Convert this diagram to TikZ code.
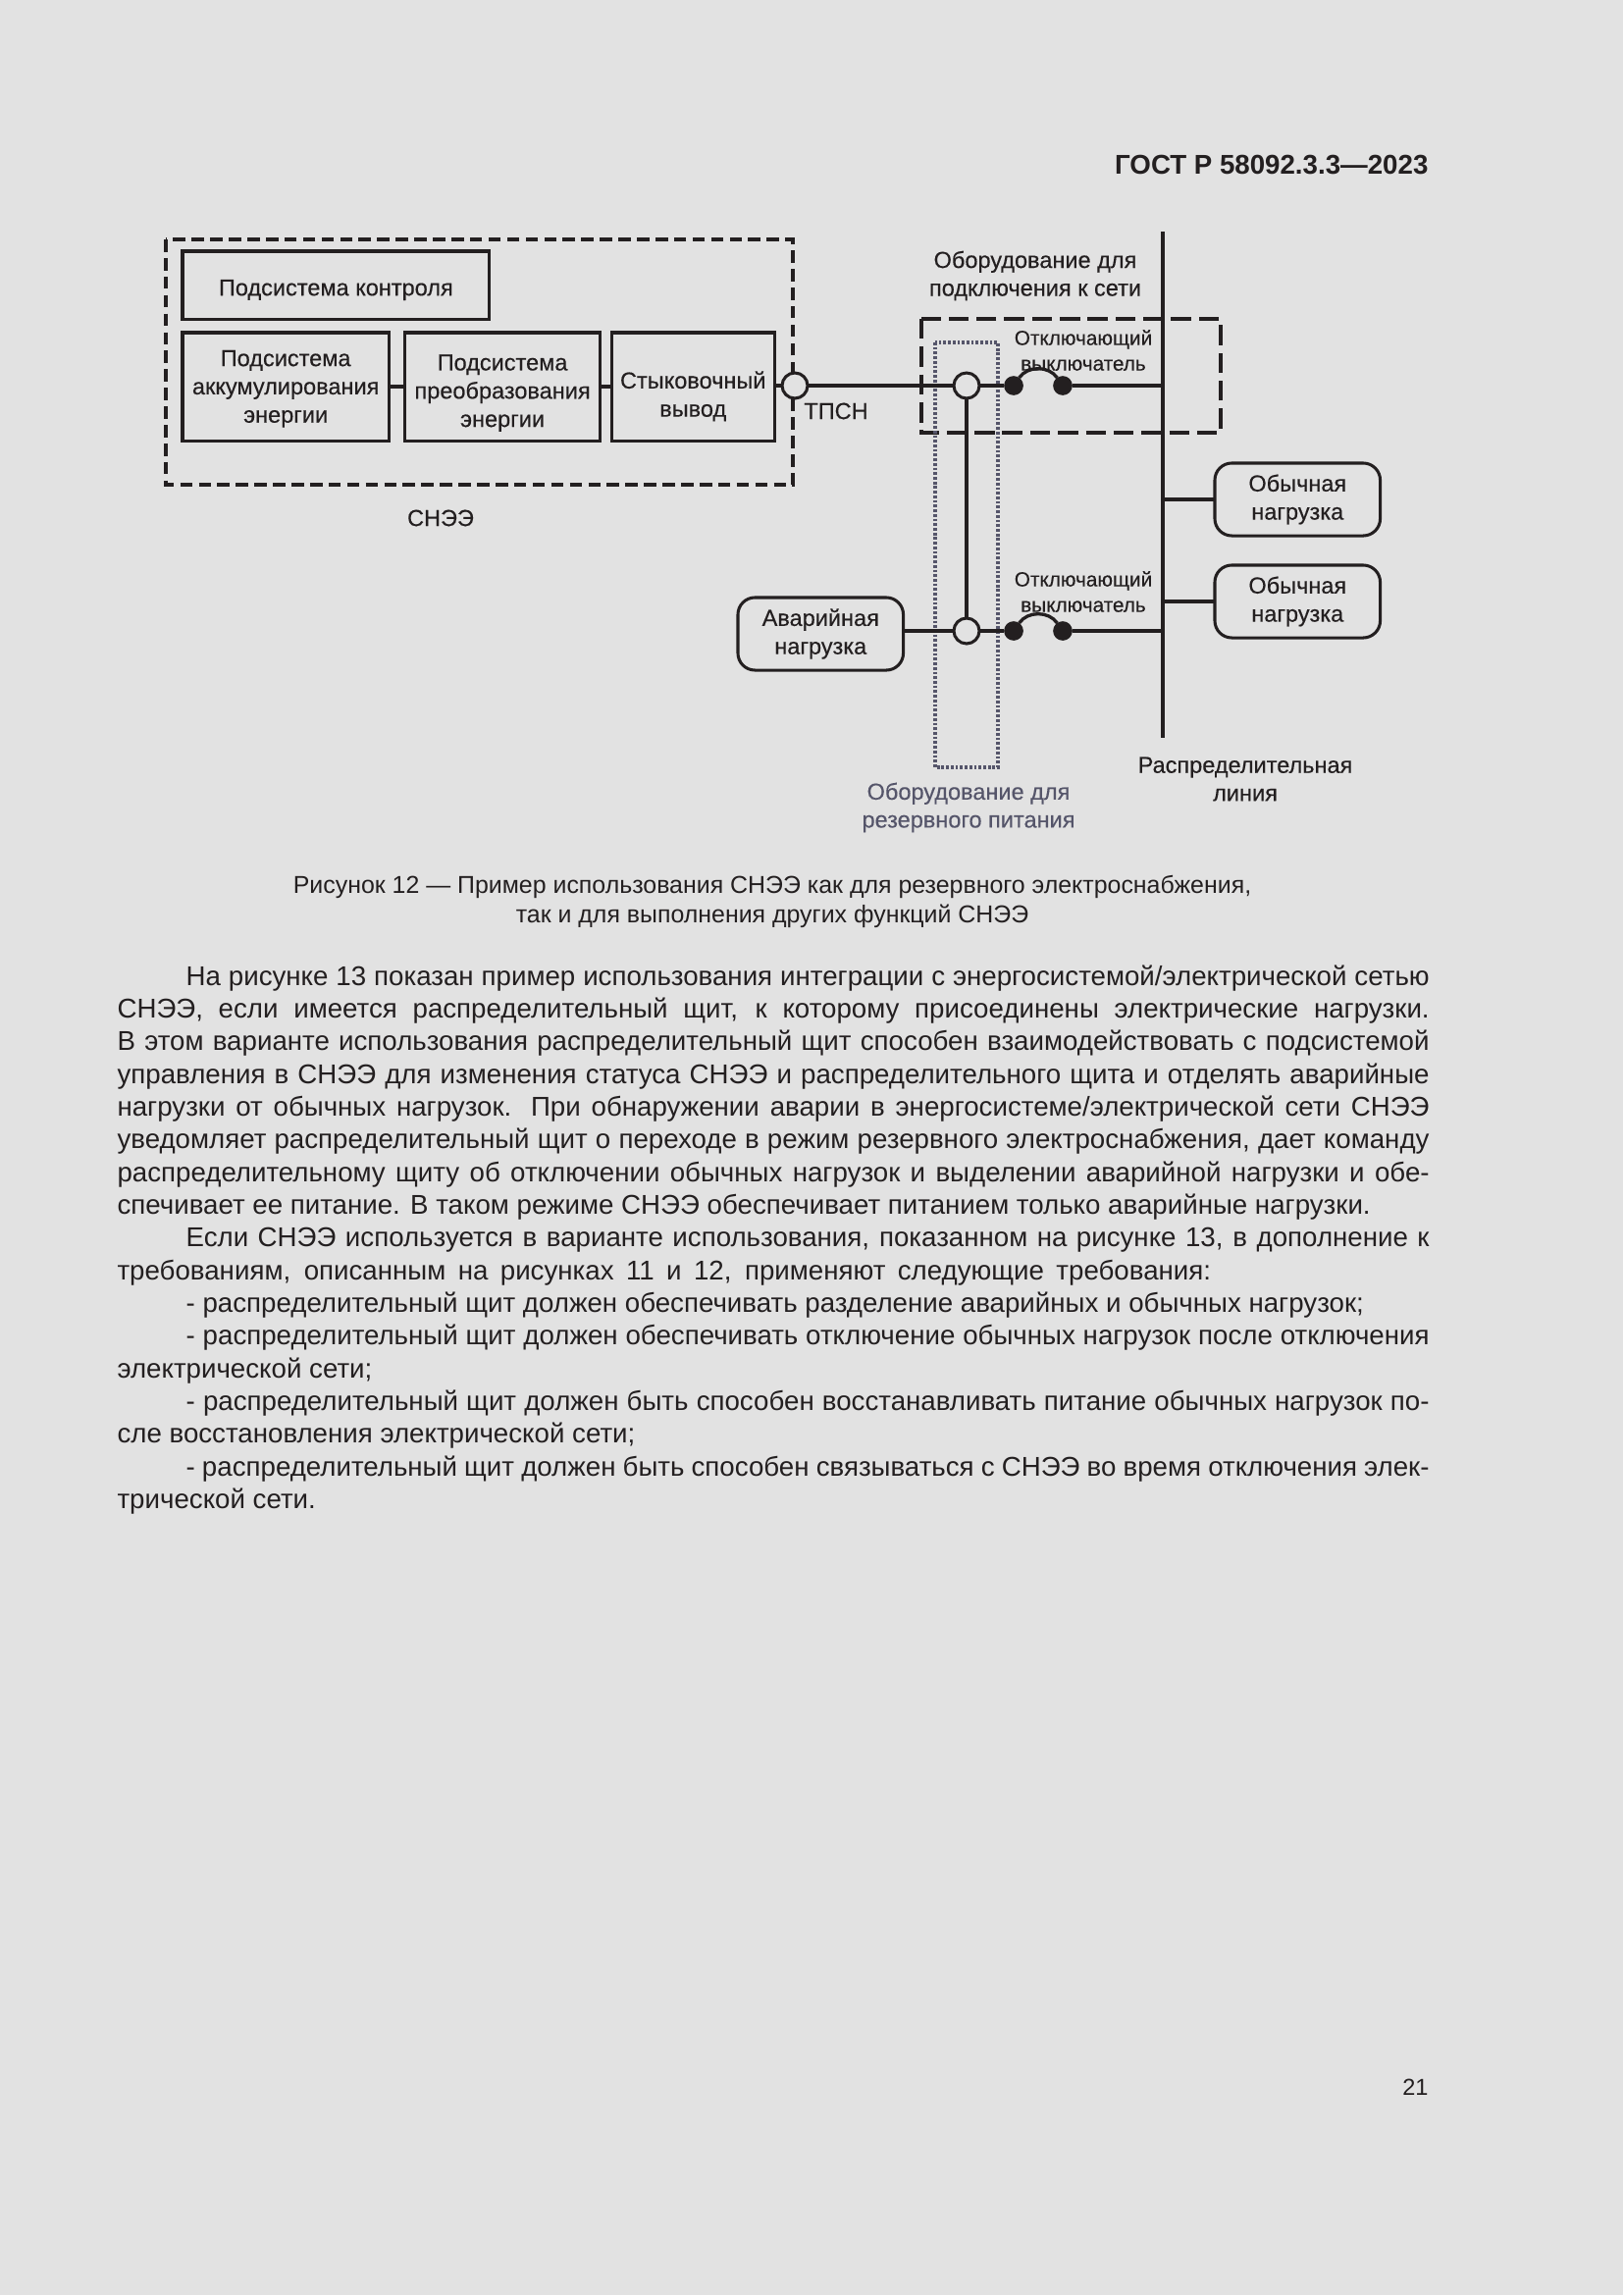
\documentclass[tikz,border=0pt]{standalone}
\usepackage{fontspec}
\setmainfont{Liberation Sans}
\newfontfamily\diagfont[FakeBold=0.35]{Liberation Sans}
\definecolor{paper}{HTML}{E2E2E2}
\definecolor{ink}{HTML}{231F20}
\definecolor{slate}{HTML}{55556A}
\usetikzlibrary{arrows.meta, positioning, calc}
\tikzset{
  box/.style={draw=ink, line width=1.1pt, outer sep=0pt, align=center, font=\diagfont\fontsize{8.5}{10.4}\selectfont, text=ink, inner sep=0pt, minimum height=14mm},
  loadbox/.style={box, rounded corners=2.2mm, minimum width=21.4mm, minimum height=9.4mm},
  wire/.style={draw=ink, line width=1.4pt},
  wirethin/.style={draw=ink, line width=1.2pt},
  tap/.style={circle, draw=ink, fill=paper, line width=1.1pt, minimum size=3.3mm, inner sep=0pt, outer sep=0pt},
  contact/.style={circle, fill=ink, minimum size=2.5mm, inner sep=0pt, outer sep=0pt},
  lbl/.style={font=\diagfont\fontsize{8.5}{10.3}\selectfont, text=ink, align=center, inner sep=0pt},
  smalllbl/.style={font=\diagfont\fontsize{7.5}{9.4}\selectfont, text=ink, align=center, inner sep=0pt},
  zone/.style={draw=ink, line width=1.1pt, dash pattern=on 1.6mm off 0.8mm},
  gridzone/.style={draw=ink, line width=1.1pt, dash pattern=on 2.6mm off 1mm},
  backupzone/.style={draw=slate, line width=1.3pt, dash pattern=on 0.35mm off 0.25mm},
  pagetext/.style={font=\fontsize{10}{12.04}\selectfont, text=ink, inner sep=0pt},
}
\newcommand{\nl}{\linebreak}
\newcommand{\topgap}[1]{\rule{0pt}{#1}}
\begin{document}
\begin{tikzpicture}[x=0.12697mm,y=-0.12697mm]
\fill[paper] (0,0) rectangle (1654,2339);
\node[pagetext,anchor=east,font=\bfseries\fontsize{10}{12}\selectfont] (head) at (1456,168) {ГОСТ Р 58092.3.3—2023};
% storage system
\draw[zone] (169,244) rectangle (808,494);
\node[box,anchor=north west,minimum width=39.7mm,minimum height=8.8mm] (ctrl) at (186,256) {\topgap{3.3mm}Подсистема контроля};
\node[box,anchor=north west,minimum width=26.7mm] (accum) at (186,339) {\topgap{2.6mm}Подсистема\\аккумулирования\\энергии};
\node[box,right=2.1mm of accum,minimum width=25.2mm] (conv) {\topgap{3.7mm}Подсистема\\преобразования\\энергии};
\node[box,right=1.5mm of conv,minimum width=21.1mm] (dock) {\topgap{4.7mm}Стыковочный\\вывод};
\node[lbl] (sys) at (449,528) {СНЭЭ};
% zones
\draw[gridzone] (939,325) rectangle (1244,441);
\draw[backupzone] (953,349) rectangle (1017,782);
\coordinate (bustop) at (1185,236);
\coordinate (busbot) at (1185,752);
\draw[wirethin] (bustop)--(busbot);
% taps and switches
\node[tap] (tpsn) at (810,393) {};
\node[tap] (tap1) at (985,393) {};
\node[tap] (tap2) at (985,643) {};
\node[contact] (sw1a) at (1033,393) {};
\node[contact] (sw1b) at (1083,393) {};
\node[contact] (sw2a) at (1033,643) {};
\node[contact] (sw2b) at (1083,643) {};
\node[loadbox,anchor=west] (load1) at (1238,509) {Обычная\\нагрузка};
\node[loadbox,anchor=west] (load2) at (1238,613) {Обычная\\нагрузка};
\node[loadbox,anchor=west] (emerg) at (752,646) {Аварийная\\нагрузка};
\draw[wire] (accum)--(conv);\draw[wire] (conv)--(dock);
\draw[wire] (dock.east |- tpsn)--(tpsn);\draw[wire] (tpsn)--(tap1);\draw[wire] (tap1)--(sw1a);
\draw[wire] (sw1b)--(bustop |- sw1b);
\draw[wire] (emerg.east |- tap2)--(tap2);\draw[wire] (tap2)--(sw2a);
\draw[wire] (sw2b)--(bustop |- sw2b);
\draw[wirethin] (tap1)--(tap2);
\draw[wirethin] (sw1a) to[bend left=55] (sw1b);
\draw[wirethin] (sw2a) to[bend left=55] (sw2b);
\draw[wirethin] (bustop |- load1)--(load1);
\draw[wirethin] (bustop |- load2)--(load2);
% labels
\node[lbl] (tpsnlbl) at (852,419) {ТПСН};
\node[lbl] (gridlbl) at (1055,281) {Оборудование для\\подключения к сети};
\node[smalllbl] (sw1lbl) at (1104,357) {Отключающий\\выключатель};
\node[smalllbl] (sw2lbl) at (1104,603) {Отключающий\\выключатель};
\node[lbl] (linelbl) at (1269,794) {Распределительная\\линия};
\node[lbl,text=slate] (backuplbl) at (987,823) {Оборудование для\\резервного питания};
% caption and text
\node[pagetext,align=center,font=\fontsize{9}{10.8}\selectfont] (caption) at (787,919) {Рисунок 12 — Пример использования СНЭЭ как для резервного электроснабжения,\\так и для выполнения других функций СНЭЭ};
\node[pagetext,anchor=north west,text width=169.76mm,align=justify] (body) at (119,983) {\tolerance=9999\hyphenpenalty=10000\hspace*{8.9mm}На рисунке 13 показан пример использования интеграции с энергосистемой/электрической сетью\nl СНЭЭ, если имеется распределительный щит, к которому присоединены электрические нагрузки.\nl В этом варианте использования распределительный щит способен взаимодействовать с подсистемой\nl управления в СНЭЭ для изменения статуса СНЭЭ и распределительного щита и отделять аварийные\nl нагрузки от обычных нагрузок. При обнаружении аварии в энергосистеме/электрической сети СНЭЭ\nl уведомляет распределительный щит о переходе в режим резервного электроснабжения, дает команду\nl распределительному щиту об отключении обычных нагрузок и выделении аварийной нагрузки и обе-\nl спечивает ее питание. В таком режиме СНЭЭ обеспечивает питанием только аварийные нагрузки.\par
\hspace*{8.9mm}Если СНЭЭ используется в варианте использования, показанном на рисунке 13, в дополнение к\nl \makebox[141.5mm][s]{требованиям, описанным на рисунках 11 и 12, применяют следующие требования:}\par
\hspace*{8.9mm}- распределительный щит должен обеспечивать разделение аварийных и обычных нагрузок;\par
\hspace*{8.9mm}- распределительный щит должен обеспечивать отключение обычных нагрузок после отключения\nl электрической сети;\par
\hspace*{8.9mm}- распределительный щит должен быть способен восстанавливать питание обычных нагрузок по-\nl сле восстановления электрической сети;\par
\hspace*{8.9mm}- распределительный щит должен быть способен связываться с СНЭЭ во время отключения элек-\nl трической сети.\par};
\node[pagetext,anchor=east,font=\fontsize{8.5}{10}\selectfont] (pageno) at (1456,2127) {21};
\end{tikzpicture}
\end{document}
